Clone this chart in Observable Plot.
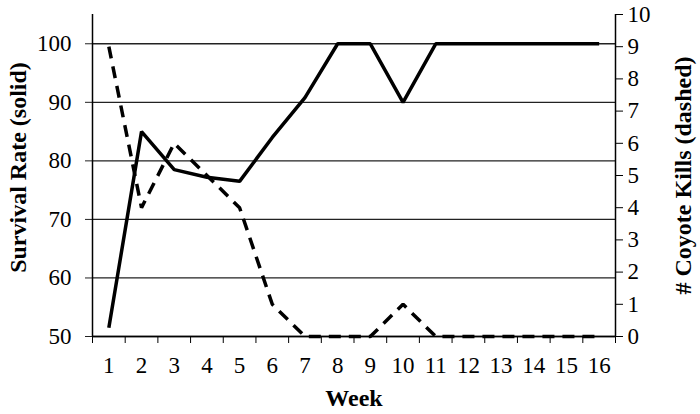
<!DOCTYPE html>
<html><head><meta charset="utf-8">
<script src="https://cdn.jsdelivr.net/npm/d3@7"></script>
<script src="https://cdn.jsdelivr.net/npm/@observablehq/plot@0.6"></script>
<style>body{margin:0;background:#fff}</style>
</head><body><div id="chart"></div>
<script>
const weeks = [1,2,3,4,5,6,7,8,9,10,11,12,13,14,15,16];
const survival = [51.5,85,78.5,77.2,76.5,84,90.8,100,100,90,100,100,100,100,100,100];
const kills = [9,4,6,5,4,1,0,0,0,1,0,0,0,0,0,0];
const survivalTicks = [50,60,70,80,90,100];
const killTicks = [0,1,2,3,4,5,6,7,8,9,10];
const survivalDomain = [50,105];
const killDomain = [0,10];
const toY = k => survivalDomain[0] + (k - killDomain[0]) * (survivalDomain[1]-survivalDomain[0]) / (killDomain[1]-killDomain[0]);
const fromY = y => killDomain[0] + (y - survivalDomain[0]) * (killDomain[1]-killDomain[0]) / (survivalDomain[1]-survivalDomain[0]);
const data = weeks.map((w,i) => ({week: w, survival: survival[i], kills: kills[i]}));
const bounds = [weeks[0]-0.5, ...weeks.map(w => w+0.5)];
const serif = "'Liberation Serif', 'Times New Roman', serif";

const chart = Plot.plot({
  width: 700, height: 414,
  marginLeft: 92, marginRight: 85, marginTop: 14, marginBottom: 78,
  style: {fontFamily: serif, fontSize: "23px", color: "#000", background: "#fff"},
  x: {domain: [bounds[0], bounds[bounds.length-1]]},
  y: {domain: survivalDomain},
  marks: [
    Plot.ruleY(survivalTicks, {stroke: "#222", strokeWidth: 1.3}),
    Plot.axisY(survivalTicks, {anchor: "left", tickSize: 7, tickPadding: 14, label: null, stroke: "#222", fontFamily: serif, fontSize: 23}),
    Plot.axisY(killTicks.map(toY), {anchor: "right", tickSize: 7, tickPadding: 5, label: null, fontFamily: serif, fontSize: 23, tickFormat: y => String(Math.round(fromY(y)))}),
    Plot.axisX(bounds, {anchor: "bottom", tickSize: 7, tickFormat: () => "", label: null}),
    Plot.axisX(weeks, {anchor: "bottom", tickSize: 0, tickPadding: 20, label: null, fontFamily: serif, fontSize: 23}),
    Plot.ruleX([bounds[0], bounds[bounds.length-1]], {stroke: "#000", strokeWidth: 1.5}),
    Plot.ruleY([survivalDomain[0]], {stroke: "#000", strokeWidth: 1.5}),
    Plot.line(data, {x: "week", y: d => toY(d.kills), stroke: "#000", strokeWidth: 3.5, strokeDasharray: "12,8", strokeLinejoin: "miter", strokeLinecap: "butt"}),
    Plot.line(data, {x: "week", y: "survival", stroke: "#000", strokeWidth: 3.5, strokeLinejoin: "miter", strokeLinecap: "butt"}),
    Plot.text(["Survival Rate (solid)"], {frameAnchor: "left", textAnchor: "middle", lineAnchor: "middle", dx: -74, dy: -8, rotate: -90, fontWeight: "bold", fontSize: 24, fontFamily: serif}),
    Plot.text(["# Coyote Kills (dashed)"], {frameAnchor: "right", textAnchor: "middle", lineAnchor: "middle", dx: 68, rotate: -90, fontWeight: "bold", fontSize: 24, fontFamily: serif}),
    Plot.text(["Week"], {frameAnchor: "bottom", textAnchor: "middle", lineAnchor: "middle", dy: 62, fontWeight: "bold", fontSize: 24, fontFamily: serif})
  ]
});
document.getElementById("chart").append(chart);
</script>
</body></html>
